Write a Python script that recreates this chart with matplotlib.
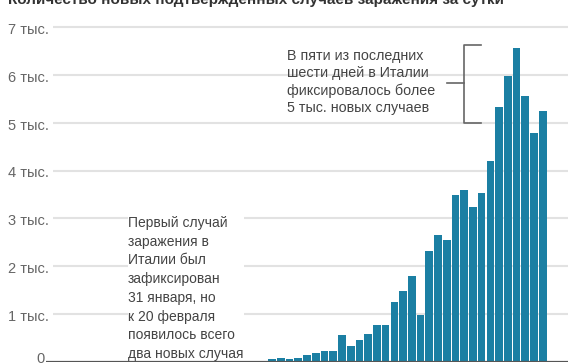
import numpy as np
import matplotlib.pyplot as plt

plt.rcParams['font.family'] = ['Liberation Sans', 'DejaVu Sans']

# new cases per day in Italy, 21 Feb .. 24 Mar
days = ['21.02', '22.02', '23.02', '24.02', '25.02', '26.02', '27.02', '28.02', '29.02',
        '01.03', '02.03', '03.03', '04.03', '05.03', '06.03', '07.03', '08.03', '09.03',
        '10.03', '11.03', '12.03', '13.03', '14.03', '15.03', '16.03', '17.03', '18.03',
        '19.03', '20.03', '21.03', '22.03', '23.03', '24.03']
cases = [20, 59, 78, 72, 94, 147, 185, 234, 239,
         566, 342, 466, 587, 769, 778, 1247, 1492, 1797,
         977, 2313, 2651, 2547, 3497, 3590, 3233, 3526, 4207,
         5322, 5986, 6557, 5560, 4789, 5249]
yticks = [0, 1000, 2000, 3000, 4000, 5000, 6000, 7000]
ylabels = ['0', '1 тыс.', '2 тыс.', '3 тыс.', '4 тыс.', '5 тыс.', '6 тыс.', '7 тыс.']

title = 'Количество новых подтвержденных случаев заражения за сутки'
note_left = ('Первый случай\nзаражения в\nИталии был\nзафиксирован\n31 января, но\n'
             'к 20 февраля\nпоявилось всего\nдва новых случая')
note_right = ('В пяти из последних\nшести дней в Италии\nфиксировалось более\n'
              '5 тыс. новых случаев')

W, H = 568, 364
fig = plt.figure(figsize=(W / 100, H / 100), dpi=100)
ax = fig.add_axes([0, 2 / H, 1, 1 - 2 / H])

# pixel based scales: 8.73 px per bar, 47.86 px per thousand
px = 8.73
x0 = 263.4
ky = 47.86
ax.set_xlim(-x0 / px, (W - x0) / px)
ax.set_ylim(0, 362 / ky * 1000)
ax.axis('off')

def xd(p):
    return (p - x0) / px

def yd(p):
    return (362 - p) / ky * 1000

# gridlines starting after their labels
for v, lab in zip(yticks, ylabels):
    if v == 0:
        ax.plot([xd(46), xd(W)], [v, v], color='#555555', lw=1.6, zorder=3,
                solid_capstyle='butt')
        ax.text(xd(45), v + 60, lab, ha='right', va='center', color='#666666',
                fontsize=10.5)
    else:
        ax.plot([xd(53), xd(W)], [v, v], color='#e2e2e2', lw=1.5, zorder=0,
                solid_capstyle='butt')
        ax.text(xd(8), v - 60, lab, ha='left', va='center', color='#666666',
                fontsize=10.5)

x = np.arange(len(cases))
ax.bar(x, cases, width=0.88, color='#1b7fa3', zorder=2)

ax.text(xd(128), yd(216), note_left, ha='left', va='top',
        fontsize=10, color='#444444', linespacing=1.43,
        bbox=dict(facecolor='white', edgecolor='none', pad=0), zorder=1)
ax.text(xd(287), yd(49), note_right, ha='left', va='top',
        fontsize=10.3, color='#444444', linespacing=1.3)

# bracket over the last days
ax.plot([xd(481), xd(464), xd(464), xd(481)], [yd(45), yd(45), yd(123), yd(123)],
        color='#666666', lw=1.2)
ax.plot([xd(447), xd(464)], [yd(83), yd(83)], color='#666666', lw=1.2)

fig.text(8 / W, 1.0, title, ha='left', va='center', fontsize=11, fontweight='bold',
         color='#333333')

fig.savefig('out.png', dpi=100)
